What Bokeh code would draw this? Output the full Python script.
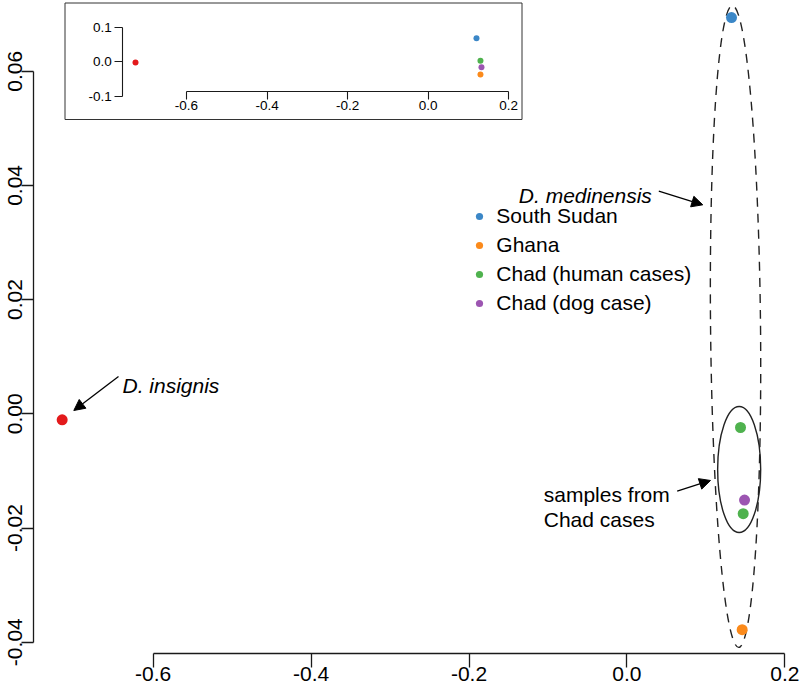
from bokeh.plotting import figure
from bokeh.models import (ColumnDataSource, FixedTicker, PrintfTickFormatter, Legend,
                          LegendItem, Arrow, NormalHead, Range1d, LinearAxis, BoxAnnotation)
from bokeh.embed import file_html
from bokeh.resources import INLINE
from bokeh.core.properties import value

FONT = "Liberation Sans"

# ---------------- data ----------------
groups = ["South Sudan", "Ghana", "Chad (human cases)", "Chad (dog case)"]
group_colors = ["#3b87c7", "#fb8a1b", "#4fb24e", "#9c55b1"]

# D. medinensis samples, main panel
sample_group = ["South Sudan", "Ghana", "Chad (human cases)", "Chad (human cases)", "Chad (dog case)"]
sample_x = [0.1325, 0.1460, 0.1439, 0.1473, 0.1490]
sample_y = [0.0694, -0.0378, -0.0024, -0.0175, -0.0151]

# D. insignis, main panel
insignis_x = [-0.7153]
insignis_y = [-0.00105]
insignis_color = "#e31a1c"

# inset panel
inset_group = ["South Sudan", "Ghana", "Chad (human cases)", "Chad (dog case)"]
inset_x = [0.1199, 0.1298, 0.1298, 0.1323]
inset_y = [0.0681, -0.0367, 0.0029, -0.0156]
inset_insignis_x = [-0.7266]
inset_insignis_y = [-0.0020]

# grouping ellipses
ell_x = [0.1376, 0.1422]
ell_y = [0.01529, -0.00976]
ell_w = [0.0633, 0.0545]
ell_h = [0.1124, 0.02207]
ell_angle = [0.0098, 0.0]
ell_dash = ["9 7", "solid"]

# annotation labels and arrows
label_text = ["D. insignis", "D. medinensis", "samples from", "Chad cases"]
label_x = [-0.6389, -0.1369, -0.1053, -0.1053]
label_y = [0.00496, 0.03823, -0.01413, -0.01851]
label_style = ["italic", "italic", "normal", "normal"]

arrow_x0 = [-0.64395, 0.0404, 0.0637]
arrow_y0 = [0.006532, 0.03898, -0.01356]
arrow_x1 = [-0.70057, 0.0961, 0.1059]
arrow_y1 = [0.000578, 0.03660, -0.01168]

# axes
x_ticks = [-0.6, -0.4, -0.2, 0.0, 0.2]
x_tick_labels = ["-0.6", "-0.4", "-0.2", "0.0", "0.2"]
y_ticks = [-0.04, -0.02, 0.0, 0.02, 0.04, 0.06]
y_tick_labels = ["-0.04", "-0.02", "0.00", "0.02", "0.04", "0.06"]
inset_y_ticks = [-0.1, 0.0, 0.1]
inset_y_tick_labels = ["-0.1", "0.0", "0.1"]

# ---------------- layout (canvas pixels) ----------------
FIG_W, FIG_H = 800, 688


def x_at(px):   # main panel, canvas px -> data
    return -0.6 + (px - 152.7) / 789.5


def y_at(py):
    return 0.06 - (py - 70.7) / 5710.0


def ix_at(px):  # inset panel, canvas px -> data
    return -0.6 + (px - 186.0) / 402.8


def iy_at(py):
    return 0.1 - (py - 26.7) / 346.5


p = figure(width=FIG_W, height=FIG_H,
           x_range=Range1d(x_at(0), x_at(FIG_W)),
           y_range=Range1d(y_at(FIG_H), y_at(0)),
           x_axis_location=None, y_axis_location=None,
           output_backend="svg", toolbar_location=None,
           min_border_left=0, min_border_right=0, min_border_top=0, min_border_bottom=0)
p.extra_x_ranges = {"ix": Range1d(ix_at(0), ix_at(FIG_W))}
p.extra_y_ranges = {"iy": Range1d(iy_at(FIG_H), iy_at(0))}
p.outline_line_color = None
p.grid.visible = False


def make_axis(ticks, labels, bounds, size, tick_out, standoff, lw, **kw):
    ax = LinearAxis(**kw)
    ax.ticker = FixedTicker(ticks=ticks)
    ax.formatter = PrintfTickFormatter(format="%.2f" if len(labels[0].split(".")[1]) == 2 else "%.1f")
    ax.major_label_overrides = {t: l for t, l in zip(ticks, labels)}
    ax.bounds = bounds
    ax.axis_line_color = "#1a1a1a"
    ax.axis_line_width = lw
    ax.major_tick_line_color = "#1a1a1a"
    ax.major_tick_line_width = lw
    ax.major_tick_in = 0
    ax.major_tick_out = tick_out
    ax.minor_tick_line_color = None
    ax.major_label_standoff = standoff
    ax.major_label_text_font = FONT
    ax.major_label_text_font_size = size
    ax.major_label_text_color = "black"
    return ax


# main axes
p.add_layout(make_axis(x_ticks, x_tick_labels, (-0.6, 0.2), "21px", 14, 0, 1.3,
                       fixed_location=y_at(652.7)), "below")
p.add_layout(make_axis(y_ticks, y_tick_labels, (-0.04, 0.06), "21px", 12, 0, 1.3,
                       fixed_location=x_at(33.3), major_label_orientation="vertical"), "left")

# inset axes
p.add_layout(make_axis(x_ticks, x_tick_labels, (-0.6, 0.2), "13.5px", 8, 2, 1.1,
                       x_range_name="ix", y_range_name="iy",
                       fixed_location=iy_at(90.7)), "below")
p.add_layout(make_axis(inset_y_ticks, inset_y_tick_labels, (-0.1, 0.1), "13.5px", 8, 3, 1.1,
                       x_range_name="ix", y_range_name="iy",
                       fixed_location=ix_at(122.3)), "left")

# inset frame
p.add_layout(BoxAnnotation(left=x_at(64.5), right=x_at(521.5), top=y_at(2.5), bottom=y_at(119.0),
                           fill_alpha=0, line_color="#333333", line_width=1, line_alpha=1))

# ellipses
for i in range(len(ell_x)):
    p.ellipse(x=[ell_x[i]], y=[ell_y[i]], width=[ell_w[i]], height=[ell_h[i]],
              angle=ell_angle[i], fill_color=None, line_color="#222222",
              line_width=1.4, line_dash=ell_dash[i])

# main points
p.scatter(insignis_x, insignis_y, size=11, color=insignis_color, line_color=None)
renderers = []
for g, c in zip(groups, group_colors):
    xs = [x for x, gg in zip(sample_x, sample_group) if gg == g]
    ys = [y for y, gg in zip(sample_y, sample_group) if gg == g]
    renderers.append(p.scatter(xs, ys, size=11, fill_color=c, line_color=None))

# inset points
p.scatter(inset_insignis_x, inset_insignis_y, size=6, color=insignis_color, line_color=None,
          x_range_name="ix", y_range_name="iy")
for g, c in zip(groups, group_colors):
    xs = [x for x, gg in zip(inset_x, inset_group) if gg == g]
    ys = [y for y, gg in zip(inset_y, inset_group) if gg == g]
    p.scatter(xs, ys, size=6, fill_color=c, line_color=None, x_range_name="ix", y_range_name="iy")

legend = Legend(items=[LegendItem(label=g, renderers=[r]) for g, r in zip(groups, renderers)],
                location=(470.3, 373.3), glyph_width=18, glyph_height=24, label_height=24,
                label_standoff=8, spacing=5, padding=0, margin=0,
                border_line_alpha=0, background_fill_alpha=0,
                label_text_font=FONT, label_text_font_size="21px", label_text_color="black")
p.add_layout(legend)

# labels
lab_src = ColumnDataSource(dict(x=label_x, y=label_y, text=label_text, style=label_style))
p.text(x="x", y="y", text="text", source=lab_src, text_font=value(FONT),
       text_font_size="21px", text_font_style="style", text_baseline="alphabetic",
       text_align="left", text_color="black")

arr_src = ColumnDataSource(dict(x0=arrow_x0, y0=arrow_y0, x1=arrow_x1, y1=arrow_y1))
p.add_layout(Arrow(end=NormalHead(size=11, fill_color="black", line_color="black", line_width=1),
                   x_start="x0", y_start="y0", x_end="x1", y_end="y1", source=arr_src,
                   line_color="black", line_width=1.3))

open("out.html", "w").write(file_html(p, INLINE))
